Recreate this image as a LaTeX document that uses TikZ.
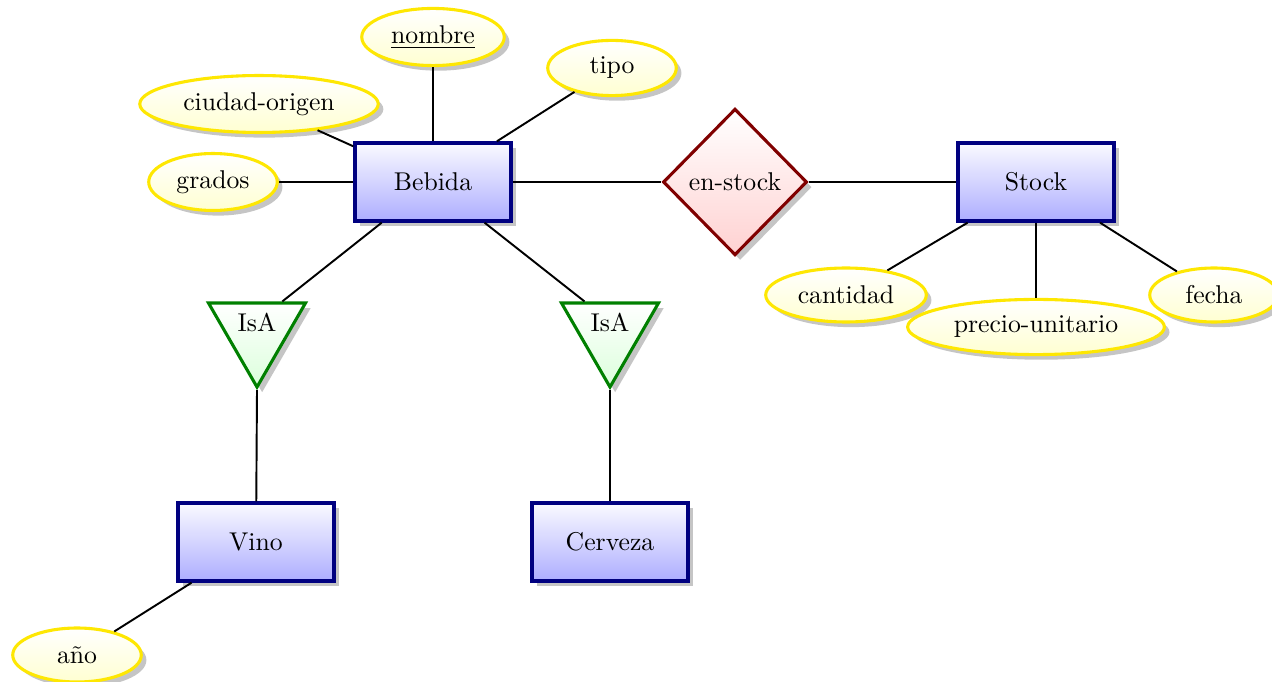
\documentclass[tikz,border=0pt]{standalone}
\usetikzlibrary{shapes.geometric,shadows,calc}
\tikzset{
  shadowed/.style={drop shadow={fill=black!45, shadow xshift=2pt, shadow yshift=-2pt}},
  entity/.style={rectangle, draw=blue!50!black, line width=1.35pt, top color=blue!2, bottom color=blue!32,
    minimum width=60.7pt, minimum height=30.3pt, shadowed},
  attr/.style={ellipse, draw=yellow!95!red, line width=1.2pt, top color=white, bottom color=yellow!18,
    minimum width=50pt, minimum height=21pt, shadowed},
  rel/.style={diamond, draw=red!50!black, line width=1.2pt, top color=white, bottom color=red!18,
    inner sep=1pt, minimum width=56pt, minimum height=57pt, shadowed},
  isa/.style={regular polygon, regular polygon sides=3, shape border rotate=180, draw=green!50!black,
    line width=1.2pt, top color=white, bottom color=green!14, minimum size=43.6pt, inner sep=0pt, shadowed},
  conn/.style={line width=0.75pt, black},
}
\begin{document}
\begin{tikzpicture}[x=0.389pt, y=-0.389pt]
\useasboundingbox (0,0) rectangle (1272,682);
% entities
\node[entity] (bebida) at (433,182) {Bebida};
\node[entity] (stock) at (1036,182) {Stock};
\node[entity] (vino) at (256,542) {Vino};
\node[entity] (cerveza) at (610,542) {Cerveza};
% relationship
\node[rel] (enstock) at (735,182) {en-stock};
% isa
\node[isa] (isa1) at (257,331) {};
\node[isa] (isa2) at (610,331) {};
\node (isa1lbl) at (257,322) {IsA};
\node (isa2lbl) at (610,322) {IsA};
\coordinate (isa1aim) at (245,331);
\coordinate (isa2aim) at (622,331);
% attributes
\node[attr] (nombre) at (433,37) {\underline{nombre}};
\node[attr] (tipo) at (612,68) {tipo};
\node[attr] (ciudad) at (259,104) {ciudad-origen};
\node[attr] (grados) at (213,182) {grados};
\node[attr] (cantidad) at (846,295) {cantidad};
\node[attr] (precio) at (1036,327) {precio-unitario};
\node[attr] (fecha) at (1214,295) {fecha};
\node[attr] (anio) at (77,655) {año};
% connectors
\draw[conn] (bebida) -- (nombre);
\draw[conn] (bebida) -- (tipo);
\draw[conn] (bebida) -- (ciudad);
\draw[conn] (bebida) -- (grados);
\draw[conn] (bebida) -- (enstock);
\draw[conn] (enstock) -- (stock);
\draw[conn] (stock) -- (cantidad);
\draw[conn] (stock) -- (precio);
\draw[conn] (stock) -- (fecha);
\draw[conn] (bebida) -- (intersection of bebida--isa1aim and isa1.corner 2--isa1.corner 3);
\draw[conn] (bebida) -- (intersection of bebida--isa2aim and isa2.corner 2--isa2.corner 3);
\draw[conn] (isa1.corner 1) -- (vino);
\draw[conn] (isa2.corner 1) -- (cerveza);
\draw[conn] (vino) -- (anio);
\end{tikzpicture}
\end{document}
